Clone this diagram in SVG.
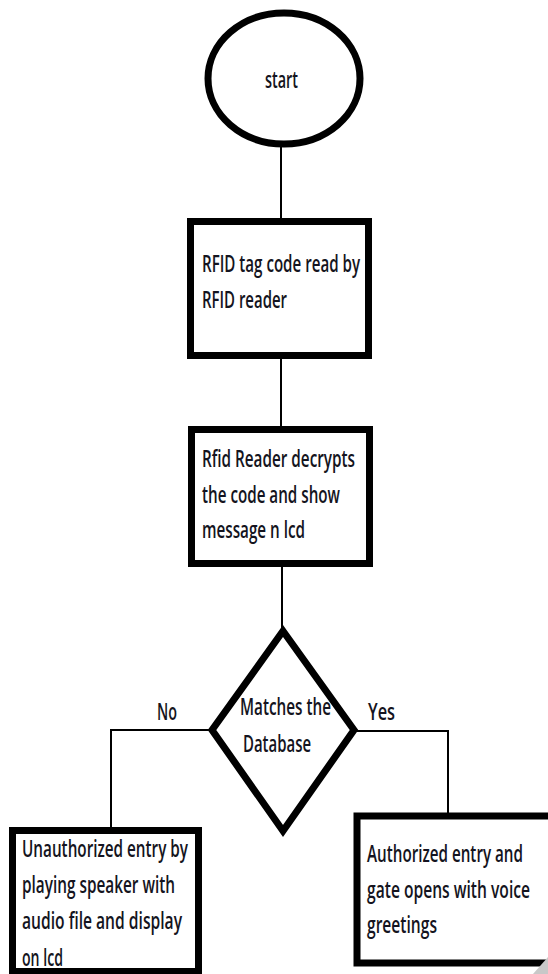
<svg xmlns="http://www.w3.org/2000/svg" width="548" height="974" viewBox="0 0 548 974">
<style>
.shape{fill:#fff;stroke:#000;stroke-width:7;stroke-linejoin:miter}
.conn{fill:none;stroke:#000;stroke-width:2}
.t{font-family:"Open Sans","Liberation Sans","DejaVu Sans",sans-serif;font-size:23px;font-weight:600;fill:#141420}
</style>
<rect width="548" height="974" fill="#fff"/>
<g id="connectors">
<line class="conn" x1="281" y1="144" x2="281" y2="219"/>
<line class="conn" x1="281" y1="358" x2="281" y2="427"/>
<line class="conn" x1="282" y1="566" x2="282" y2="628"/>
<polyline class="conn" points="210,730 111,730 111,829"/>
<polyline class="conn" points="356,731 448,731 448,814"/>
<text class="t" x="157" y="720" textLength="20" lengthAdjust="spacingAndGlyphs">No</text>
<text class="t" x="368" y="720" textLength="27" lengthAdjust="spacingAndGlyphs">Yes</text>
</g>
<g id="start">
<ellipse class="shape" cx="284" cy="78.5" rx="76" ry="65.5" stroke-width="7"/>
<text class="t" x="265" y="88" font-size="21" font-weight="500" textLength="33" lengthAdjust="spacingAndGlyphs">start</text>
</g>
<g id="read">
<rect class="shape" x="190.5" y="221.5" width="178" height="134"/>
<text class="t" x="202" y="272" textLength="158" lengthAdjust="spacingAndGlyphs">RFID tag code read by</text>
<text class="t" x="202" y="308" textLength="85" lengthAdjust="spacingAndGlyphs">RFID reader</text>
</g>
<g id="decrypt">
<rect class="shape" x="191.5" y="429.5" width="178" height="134"/>
<text class="t" x="202" y="467" textLength="153" lengthAdjust="spacingAndGlyphs">Rfid Reader decrypts</text>
<text class="t" x="202" y="503" textLength="138" lengthAdjust="spacingAndGlyphs">the code and show</text>
<text class="t" x="202" y="538" textLength="103" lengthAdjust="spacingAndGlyphs">message n lcd</text>
</g>
<g id="decision">
<polygon class="shape" points="283,631 354,730 283,831 212,730"/>
<text class="t" x="240" y="715" textLength="91" lengthAdjust="spacingAndGlyphs">Matches the</text>
<text class="t" x="243" y="752" textLength="68" lengthAdjust="spacingAndGlyphs">Database</text>
</g>
<g id="unauthorized">
<rect class="shape" x="12.5" y="830.5" width="186" height="141"/>
<text class="t" x="22" y="857" textLength="166" lengthAdjust="spacingAndGlyphs">Unauthorized entry by</text>
<text class="t" x="22" y="893" textLength="153" lengthAdjust="spacingAndGlyphs">playing speaker with</text>
<text class="t" x="22" y="929" textLength="160" lengthAdjust="spacingAndGlyphs">audio file and display</text>
<text class="t" x="22" y="966" textLength="41" lengthAdjust="spacingAndGlyphs">on lcd</text>
</g>
<g id="authorized">
<rect class="shape" x="357" y="816" width="220" height="147" stroke-width="8"/>
<text class="t" x="367" y="862" textLength="156" lengthAdjust="spacingAndGlyphs">Authorized entry and</text>
<text class="t" x="367" y="898" textLength="163" lengthAdjust="spacingAndGlyphs">gate opens with voice</text>
<text class="t" x="367" y="933" textLength="70" lengthAdjust="spacingAndGlyphs">greetings</text>
</g>
<polygon points="548,957 548,974 533,974" fill="#c8c8c8"/>
</svg>
